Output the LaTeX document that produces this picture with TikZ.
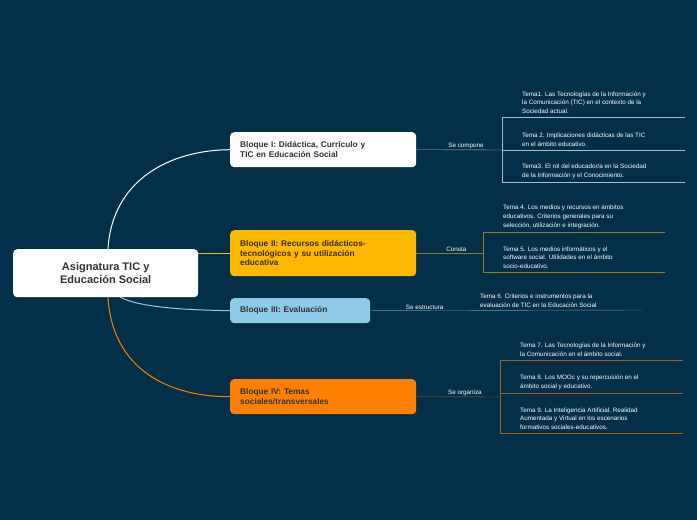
\documentclass[tikz,border=0pt]{standalone}
\usepackage{fontspec}
\setmainfont{Liberation Sans}
\begin{document}
\begin{tikzpicture}[x=1pt,y=-1pt,
 blk/.style={rounded corners=4pt,anchor=north west,inner sep=0pt,font=\bfseries\fontsize{8.3}{9.5}\selectfont,text=black!80,align=left},
 topic/.style={anchor=south west,inner sep=0pt,font=\fontsize{6.3}{8.8}\selectfont,text=white,align=left},
 lbl/.style={anchor=south,inner sep=1pt,font=\fontsize{6.3}{8}\selectfont,text=white}]
\definecolor{bg}{RGB}{3,48,72}
\definecolor{yel}{RGB}{255,184,0}
\definecolor{lblue}{RGB}{141,203,232}
\definecolor{org}{RGB}{255,128,0}
\definecolor{wl}{RGB}{170,190,205}
\definecolor{yl}{RGB}{160,125,20}
\definecolor{ol}{RGB}{170,95,20}
\fill[bg] (0,0) rectangle (697,520);
\useasboundingbox (0,0) rectangle (697,520);
% center
\node[rounded corners=4pt,fill=white,minimum width=185pt,minimum height=48pt,anchor=north west,font=\bfseries\fontsize{11}{13}\selectfont,text=black!80,align=center] (c) at (13,249) {Asignatura TIC y\\ Educación Social};
% blocks
\node[blk,fill=white,minimum width=178pt,minimum height=35pt,text width=166pt,inner xsep=10pt] (b1) at (230,132) {Bloque I: Didáctica, Currículo y\\TIC en Educación Social};
\node[blk,fill=yel,minimum width=178pt,minimum height=46pt,text width=166pt,inner xsep=10pt] (b2) at (230,230) {Bloque II: Recursos didácticos-\\tecnológicos y su utilización\\educativa};
\node[blk,fill=lblue,minimum width=132pt,minimum height=25pt,text width=120pt,inner xsep=10pt] (b3) at (230,298) {Bloque III: Evaluación};
\node[blk,fill=org,minimum width=178pt,minimum height=35pt,text width=166pt,inner xsep=10pt] (b4) at (230,379) {Bloque IV: Temas\\sociales/transversales};
% main connectors
\draw[white,line width=1pt] (108,249) .. controls (112,180) and (170,150) .. (b1.west);
\draw[yel,line width=1pt] (c.east |- 0,253) -- (b2.west |- 0,253);
\draw[lblue,line width=1pt] (120,297) .. controls (140,308) and (190,310) .. (b3.west);
\draw[org,line width=1pt] (108,297) .. controls (112,370) and (170,397) .. (b4.west);
% Block I branch
\coordinate (j1) at (502,150);
\draw[wl] (b1.east) -- node[lbl,pos=0.58]{Se compone} (j1);
\draw[wl] (502,117) -- (502,182);
\draw[wl] (502,117) -- (685,117) (502,150) -- (685,150) (502,182) -- (685,182);
\node[topic] (t1) at (522,114) {Tema1. Las Tecnologías de la Información y\\la Comunicación (TIC) en el contexto de la\\Sociedad actual.};
\node[topic] (t2) at (522,147) {Tema 2. Implicaciones didácticas de las TIC\\en el ámbito educativo.};
\node[topic] (t3) at (522,179) {Tema3. El rol del educador/a en la Sociedad\\de la Información y el Conocimiento.};
% Block II branch
\coordinate (j2) at (483,253);
\draw[yl] (b2.east |- 0,253) -- node[lbl,pos=0.6]{Consta} (j2);
\draw[yl] (483,232) -- (483,272) (483,232) -- (665,232) (483,272) -- (665,272);
\node[topic] (t4) at (503,229) {Tema 4. Los medios y recursos en ámbitos\\educativos. Criterios generales para su\\selección, utilización e integración.};
\node[topic] (t5) at (503,269) {Tema 5. Los medios informáticos y el\\software social. Utilidades en el ámbito\\socio-educativo.};
% Block III
\coordinate (j3) at (642,310);
\draw[lblue!70!bg] (b3.east) -- node[lbl,pos=0.2]{Se estructura} (j3);
\node[topic] (t6) at (480,308) {Tema 6. Criterios e instrumentos para la\\evaluación de TIC en la Educación Social};
% Block IV
\coordinate (j4) at (500,397);
\draw[ol] (b4.east) -- node[lbl,pos=0.58]{Se organiza} (j4);
\draw[ol] (500,360) -- (500,433) (500,360) -- (683,360) (500,393) -- (683,393) (500,433) -- (683,433);
\node[topic] (t7) at (520,357) {Tema 7. Las Tecnologías de la Información y\\la Comunicación en el ámbito social.};
\node[topic] (t8) at (520,390) {Tema 8. Los MOOc y su repercusión en el\\ámbito social y educativo.};
\node[topic] (t9) at (520,430) {Tema 9. La Inteligencia Artificial, Realidad\\Aumentada y Virtual en los escenarios\\formativos sociales-educativos.};
\end{tikzpicture}
\end{document}
